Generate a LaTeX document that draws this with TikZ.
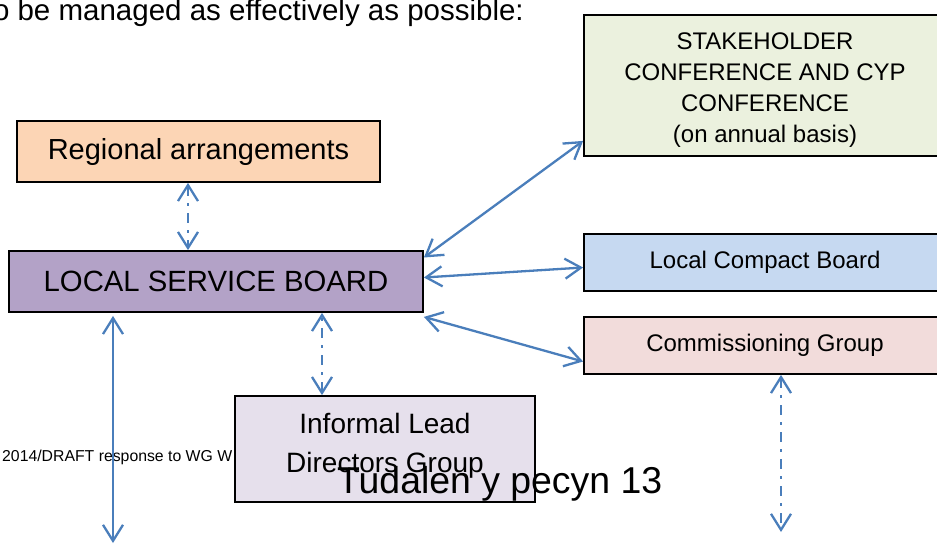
\documentclass[tikz,border=0pt]{standalone}
\usepackage{fontspec}
\setmainfont{Liberation Sans}
\usepackage{xcolor}
\usepackage{tikz}
\usetikzlibrary{arrows.meta}

\definecolor{arrowblue}{HTML}{4A7EBB}
\definecolor{regfill}{HTML}{FCD5B5}
\definecolor{lsbfill}{HTML}{B3A2C7}
\definecolor{stakefill}{HTML}{EBF1DE}
\definecolor{lcbfill}{HTML}{C6D9F1}
\definecolor{commfill}{HTML}{F2DCDB}
\definecolor{ildgfill}{HTML}{E6E0EC}

\begin{document}
\begin{tikzpicture}[x=1pt,y=-1pt]
						\tikzstyle{box}=[draw=black,line width=1.8pt,inner sep=0pt,align=center]
						\tikzstyle{link}=[arrowblue,line width=2.3pt,{Straight Barb[length=16pt,width=20pt]}-{Straight Barb[length=16pt,width=20pt]}]
						\tikzstyle{dashlink}=[link,dash pattern=on 10pt off 7pt on 3pt off 7pt]
						\tikzstyle{note}=[inner sep=0pt]
						\useasboundingbox (0,0) rectangle (937,544);
						\node[box,fill=regfill,minimum width=363pt,minimum height=61pt,font=\fontsize{29}{34}\selectfont](reg) at (198.5,151.5) {Regional arrangements};
						\node[box,fill=lsbfill,minimum width=414pt,minimum height=61pt,font=\fontsize{29.3}{34}\selectfont](lsb) at (216,281.5) {LOCAL SERVICE BOARD};
						\node[box,fill=stakefill,minimum width=362pt,minimum height=141pt,font=\fontsize{24}{31}\selectfont](stake) at (765,85.5) {\rule{0pt}{26pt}STAKEHOLDER\\CONFERENCE AND CYP\\CONFERENCE\\(on annual basis)};
						\node[box,fill=lcbfill,minimum width=362pt,minimum height=57pt,font=\fontsize{24}{29}\selectfont](lcb) at (765,262.5) {Local Compact Board};
						\node[box,fill=commfill,minimum width=362pt,minimum height=57pt,font=\fontsize{24}{29}\selectfont](comm) at (765,345.5) {Commissioning Group};
						\node[box,fill=ildgfill,minimum width=300pt,minimum height=106pt,font=\fontsize{28}{39}\selectfont](ildg) at (385,449) {Informal Lead\\Directors Group\rule[-13pt]{0pt}{13pt}};
						\node[note,anchor=base east,font=\fontsize{29.5}{34}\selectfont](intro) at (524,20) {o be managed as effectively as possible:};
						\node[note,anchor=base west,font=\fontsize{15.8}{18}\selectfont](footer) at (2,461) {2014/DRAFT response to WG W};
						\node[note,anchor=base west,font=\fontsize{37.4}{42}\selectfont](page) at (337,493) {Tudalen y pecyn 13};
						\coordinate (lsbdown) at (113,543);
						\coordinate (commdown) at (781,532);
						\draw[dashlink]([xshift=-10.5pt]reg.south) -- ([xshift=-10.5pt]reg.south |- lsb.north);
						\draw[dashlink]([xshift=-63pt]ildg.north) -- ([xshift=-63pt]ildg.north |- lsb.south);
						\draw[link]([yshift=-3pt]lsbdown |- lsb.south) -- (lsbdown);
						\draw[link]([yshift=24pt]lsb.east) -- ([yshift=16pt]stake.south west);
						\draw[link]([yshift=4pt]lsb.east) -- ([yshift=-5pt]lcb.west);
						\draw[link]([yshift=-4pt]lsb.south east) -- ([yshift=-16pt]comm.west);
						\draw[dashlink](commdown |- comm.south) -- (commdown);
					\end{tikzpicture}
\end{document}
